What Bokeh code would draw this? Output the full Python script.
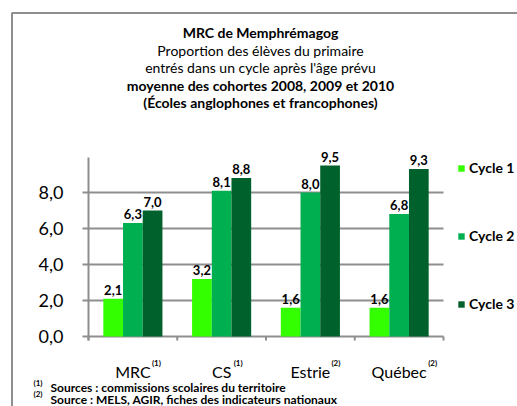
from bokeh.plotting import figure
from bokeh.models import ColumnDataSource, Range1d, Legend, LegendItem
from bokeh.core.properties import value
from bokeh.embed import file_html
from bokeh.resources import INLINE

# ---------------- data ----------------
categories = ["MRC", "CS", "Estrie", "Québec"]
category_sources = ["(1)", "(1)", "(2)", "(2)"]
series_names = ["Cycle 1", "Cycle 2", "Cycle 3"]
cycle1 = [2.1, 3.2, 1.6, 1.6]
cycle2 = [6.3, 8.1, 8.0, 6.8]
cycle3 = [7.0, 8.8, 9.5, 9.3]
y_ticks = [0, 2, 4, 6, 8]
y_tick_labels = ["0,0", "2,0", "4,0", "6,0", "8,0"]
y_axis_max = 9.95
title_lines = [
    ("MRC de Memphrémagog", "bold"),
    ("Proportion des élèves du primaire", "normal"),
    ("entrés dans un cycle après l'âge prévu", "normal"),
    ("moyenne des cohortes 2008, 2009 et 2010", "bold"),
    ("(Écoles anglophones et francophones)", "bold"),
]
footnote_marks = ["(1)", "(2)"]
footnote_texts = ["Sources :  commissions scolaires du territoire",
                  "Source : MELS, AGIR, fiches des indicateurs nationaux"]

# ---------------- layout / style ----------------
FONT = value("Lato")
colors = ["#33FF00", "#00B050", "#00612C"]
GRAY = "#8E8E8E"
W, H = 517, 406
PX_X0, PX_CAT = 88.0, 88.75     # canvas x of first category edge, px per category
PX_Y0, PX_UNIT = 336.0, 18.0    # canvas y of value 0, px per unit
BAR_W = 0.222
bar_offsets = [-BAR_W, 0.0, BAR_W]
sup_offsets = [19, 12, 21, 29]   # px right of category centre


def cx(px):   # canvas px -> x data
    return (px - PX_X0) / PX_CAT


def cy(py):   # canvas py -> y data
    return (PX_Y0 - py) / PX_UNIT


def fmt(v):
    return f"{v:.1f}".replace(".", ",")


p = figure(width=W, height=H, x_range=Range1d(cx(0), cx(W)), y_range=Range1d(cy(H), cy(0)),
           output_backend="svg", toolbar_location=None,
           min_border_left=0, min_border_right=0, min_border_top=0, min_border_bottom=0)
p.axis.visible = False
p.grid.visible = False
p.outline_line_color = None
p.background_fill_color = "white"
p.border_fill_color = "white"

n = len(categories)
centers = [i + 0.5 for i in range(n)]
tick_len = 6 / PX_CAT

# outer frame (cut by the picture edges)
p.segment(x0=[cx(11.5), cx(11)], y0=[cy(12.5), cy(12.5)], x1=[cx(11.5), cx(W + 10)],
          y1=[cy(H + 10), cy(12.5)], line_color=GRAY, line_width=2)

# gridlines + y ticks
p.segment(x0=[-tick_len] * len(y_ticks), x1=[n] * len(y_ticks), y0=y_ticks, y1=y_ticks,
          line_color=GRAY, line_width=2)
# y axis line
p.segment(x0=[0], x1=[0], y0=[-4 / PX_UNIT], y1=[y_axis_max], line_color=GRAY, line_width=2)
# category boundary ticks
p.segment(x0=list(range(n + 1)), x1=list(range(n + 1)), y0=[0] * (n + 1),
          y1=[-4 / PX_UNIT] * (n + 1), line_color=GRAY, line_width=2)

# y tick labels
p.text(x=[-(6 + 19) / PX_CAT] * len(y_ticks), y=y_ticks, text=y_tick_labels,
       text_font=FONT, text_font_size="18px", text_align="right", text_baseline="middle",
       text_color="black")

# bars + data labels
items = []
for name, vals, col, off in zip(series_names, [cycle1, cycle2, cycle3], colors, bar_offsets):
    src = ColumnDataSource(dict(x=[c + off for c in centers], val=vals, lab=[fmt(v) for v in vals]))
    r = p.vbar(x="x", top="val", width=BAR_W, source=src, fill_color=col, line_color=None)
    items.append(LegendItem(label=name, renderers=[r]))
    p.text(x="x", y="val", text="lab", source=src, y_offset=-9,
           text_font=FONT, text_font_style="bold", text_font_size="13px",
           text_align="center", text_baseline="middle", text_color="black")

# category labels + superscripts
p.text(x=centers, y=[cy(371)] * n, text=categories, text_font=FONT, text_font_size="16px",
       text_align="center", text_baseline="middle", text_color="black")
p.text(x=centers, y=[cy(362)] * n, text=category_sources, x_offset=sup_offsets,
       text_font=FONT, text_font_style="bold", text_font_size="8px",
       text_align="left", text_baseline="middle", text_color="black")

# legend
legend = Legend(items=items, location=(457, 94), padding=0, margin=0, spacing=51,
                glyph_width=8, glyph_height=8, label_height=16, label_standoff=4,
                label_text_font="Lato", label_text_font_style="bold", label_text_font_size="14px",
                label_text_color="black", background_fill_alpha=0, border_line_color=None)
p.add_layout(legend, "center")

# title
title_y = [32, 49.5, 67, 84.5, 102]
for (txt, style), yy in zip(title_lines, title_y):
    p.text(x=[cx(260)], y=[cy(yy)], text=[txt], text_font=FONT, text_font_style=style,
           text_font_size="14px", text_align="center", text_baseline="middle", text_color="black")

# footnotes
for mark, txt, yc in zip(footnote_marks, footnote_texts, [387, 398.5]):
    p.text(x=[cx(33)], y=[cy(yc - 5)], text=[mark], text_font=FONT, text_font_style="bold",
           text_font_size="8px", text_align="left", text_baseline="middle", text_color="black")
    p.text(x=[cx(50)], y=[cy(yc)], text=[txt], text_font=FONT, text_font_style="bold",
           text_font_size="12px", text_align="left", text_baseline="middle", text_color="black")

open("out.html", "w").write(file_html(p, INLINE))
